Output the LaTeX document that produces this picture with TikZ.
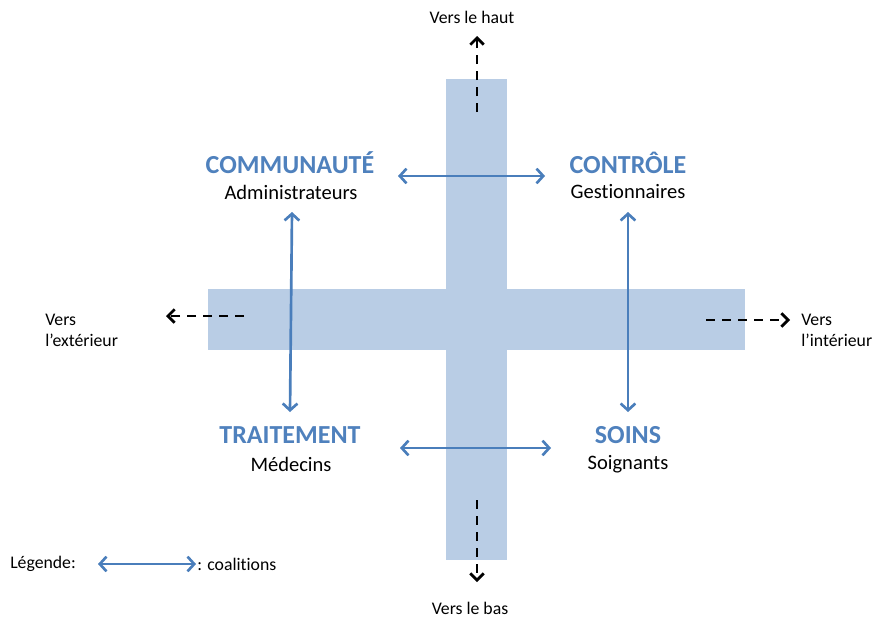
\documentclass[tikz,border=0pt]{standalone}
\usepackage{fontspec}
\setmainfont{Carlito}[Ligatures={NoCommon}]
\usetikzlibrary{arrows.meta}
\definecolor{barcolor}{HTML}{B9CDE5}
\definecolor{groupblue}{HTML}{4F81BD}
\definecolor{linkblue}{HTML}{4A7EBB}
\tikzset{
  group/.style={font=\fontsize{19.5}{22}\selectfont\bfseries,text=groupblue,inner sep=0pt},
  actor/.style={font=\fontsize{15.4}{18}\selectfont,inner sep=0pt},
  side/.style={font=\fontsize{13.3}{15.5}\selectfont,inner sep=0pt},
  coalition/.style={linkblue,line width=2pt,{Straight Barb[length=5pt,width=11pt]}-{Straight Barb[length=5pt,width=11pt]}},
  axisarrow/.style={black,line width=2.1pt,dash pattern=on 7pt off 5pt,-{Straight Barb[length=5pt,width=10pt]}}
}
\begin{document}
\begin{tikzpicture}[x=0.75pt,y=-0.75pt]
  \useasboundingbox (0,0) rectangle (879,621);
  \fill [barcolor] (446,79) rectangle (507,560);
  \fill [barcolor] (208,289) rectangle (745,350);

  \node [group] (comm) at (290,163) {COMMUNAUTÉ};
  \node [actor] (admin) at (291,192) {Administrateurs};
  \node [group] (ctrl) at (628,163) {CONTRÔLE};
  \node [actor] (gest) at (628,192) {Gestionnaires};
  \node [group] (trait) at (290,435) {TRAITEMENT};
  \node [actor] (med) at (291,464) {Médecins};
  \node [group] (soins) at (628,435) {SOINS};
  \node [actor] (soign) at (628,464) {Soignants};

  \coordinate (commE) at (398,176);
  \coordinate (ctrlW) at (545,176);
  \coordinate (traitE) at (400,448);
  \coordinate (soinsW) at (551,448);
  \coordinate (adminS) at (292,212);
  \coordinate (traitN) at (290,412);
  \coordinate (gestS) at (628,212);
  \coordinate (soinsN) at (628,412);
  \draw [coalition] (commE) -- (ctrlW);
  \draw [coalition] (traitE) -- (soinsW);
  \draw [coalition] (adminS) -- (traitN);
  \draw [coalition] (gestS) -- (soinsN);

  \node [side] (haut) at (472,17) {Vers le haut};
  \node [side] (bas) at (470,608) {Vers le bas};
  \node [side,anchor=north west,align=left] (ext) at (45,314) {Vers\\l’extérieur};
  \node [side,anchor=north west,align=left] (int) at (801,314) {Vers\\l’intérieur};
  \coordinate (upS) at (477,112);
  \coordinate (upE) at (477,36);
  \coordinate (downS) at (477,500);
  \coordinate (downE) at (477,582);
  \coordinate (leftS) at (244,316);
  \coordinate (leftE) at (166,316);
  \coordinate (rightS) at (706,320);
  \coordinate (rightE) at (790,320);
  \draw [axisarrow] (upS) -- (upE);
  \draw [axisarrow] (downS) -- (downE);
  \draw [axisarrow] (leftS) -- (leftE);
  \draw [axisarrow] (rightS) -- (rightE);

  \node [side,anchor=west] (leg) at (10,564) {Légende:};
  \coordinate (legW) at (98,564);
  \coordinate (legE) at (196,564);
  \draw [coalition] (legW) -- (legE);
  \node [side,anchor=west] (coal) at (197,564) {: coalitions};
\end{tikzpicture}
\end{document}
